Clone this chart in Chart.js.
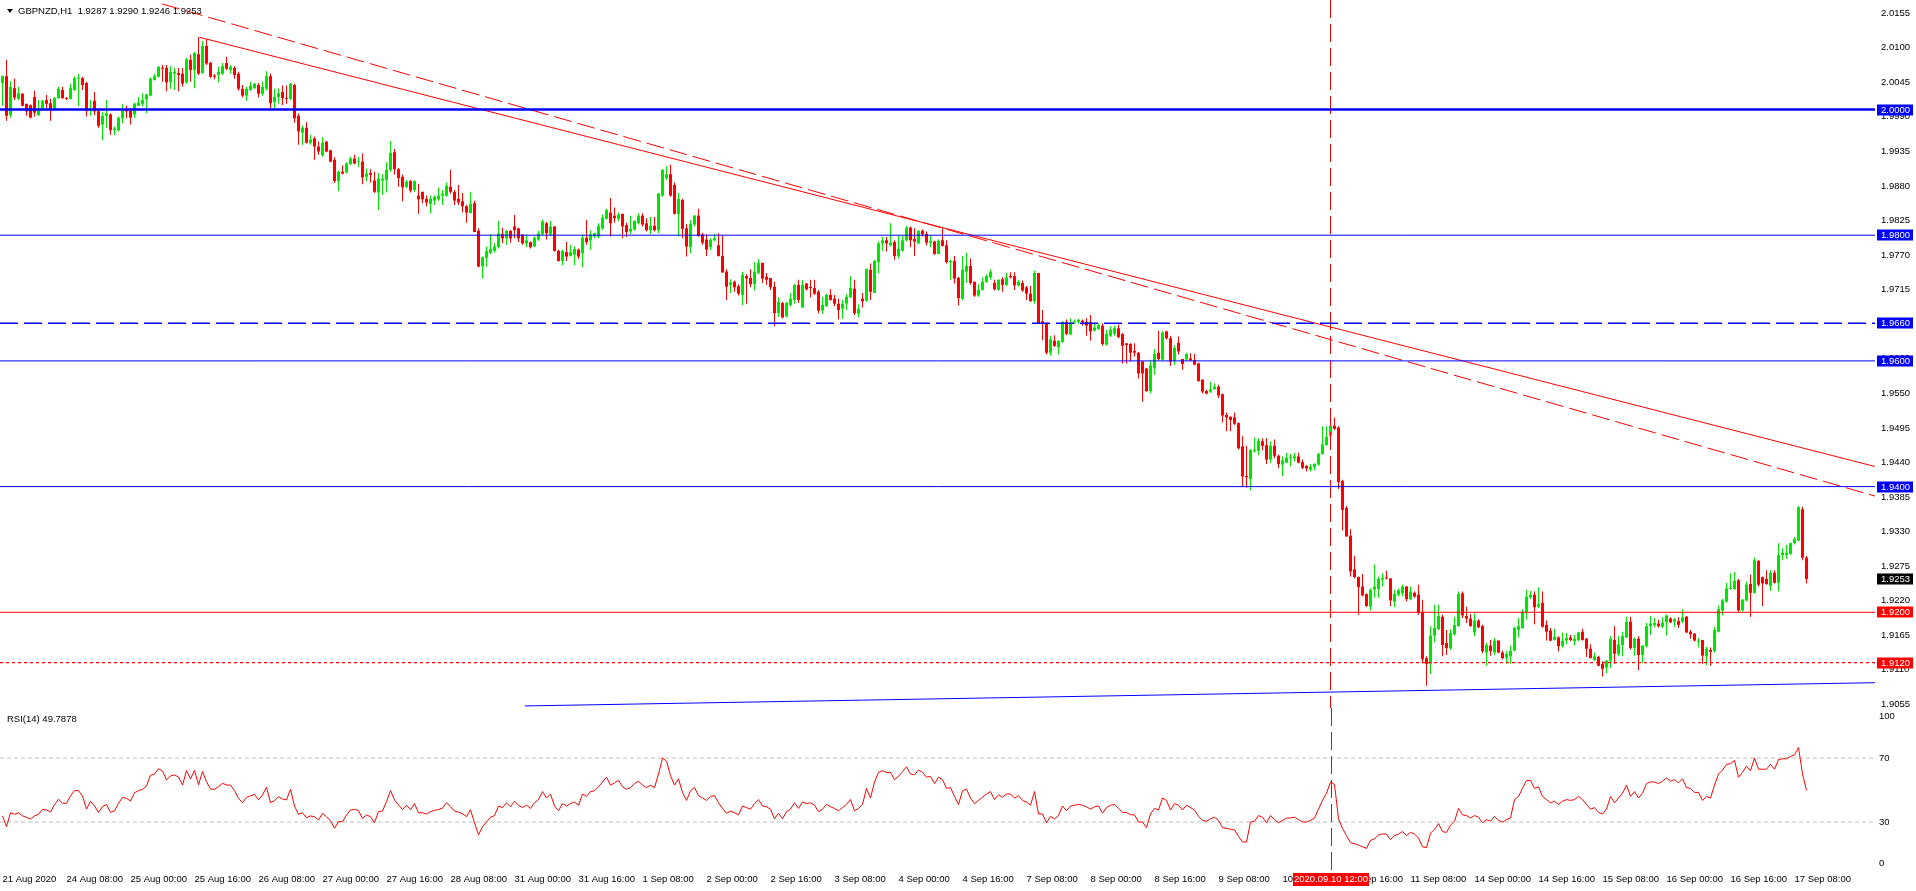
<!DOCTYPE html>
<html><head><meta charset="utf-8">
<script src="https://cdn.jsdelivr.net/npm/chart.js@4.4.0/dist/chart.umd.min.js"></script>
<style>
html,body{margin:0;padding:0;background:#fff;}
#wrap{position:relative;width:1916px;height:891px;overflow:hidden;background:#fff;}
#c1{position:absolute;left:0;top:0;}
#c2{position:absolute;left:0;top:698px;}
.lbl{position:absolute;font:9.5px 'Liberation Sans',Arial,sans-serif;line-height:12px;color:#000;white-space:pre;}
#tri{position:absolute;left:7px;top:9px;width:0;height:0;border-left:3.5px solid transparent;border-right:3.5px solid transparent;border-top:4px solid #000;}
</style></head><body>
<div id="wrap">
<canvas id="c1" width="1916" height="708"></canvas>
<canvas id="c2" width="1916" height="193"></canvas>
<div id="tri"></div>
<div class="lbl" id="title" style="left:18px;top:5px;"></div>
<div class="lbl" id="rsiLbl" style="left:7px;top:713px;"></div>
</div>
<script>
// ---------------- DATA ----------------
const SYMBOL = 'GBPNZD', TIMEFRAME = 'H1';
const OPEN = [
2.0042,2.0053,1.9991,2.0034,2.0017,2.0025,2.0009,2.0007,2.0020,1.9991,
2.0000,2.0015,2.0010,2.0000,2.0018,2.0031,2.0018,2.0017,2.0031,2.0049,
2.0050,2.0042,1.9998,2.0014,1.9997,1.9976,1.9990,1.9992,1.9967,1.9967,
1.9986,2.0000,1.9998,1.9992,2.0006,2.0009,2.0016,2.0022,2.0047,2.0052,
2.0066,2.0066,2.0044,2.0057,2.0058,2.0057,2.0043,2.0079,2.0063,2.0088,
2.0058,2.0101,2.0074,2.0054,2.0055,2.0057,2.0074,2.0063,2.0066,2.0057,
2.0033,2.0022,2.0031,2.0034,2.0039,2.0025,2.0033,2.0053,2.0012,2.0020,
2.0028,2.0018,2.0017,2.0039,1.9990,1.9963,1.9971,1.9947,1.9954,1.9941,
1.9927,1.9949,1.9935,1.9920,1.9886,1.9901,1.9900,1.9913,1.9922,1.9916,
1.9917,1.9893,1.9899,1.9887,1.9868,1.9887,1.9888,1.9904,1.9932,1.9905,
1.9893,1.9877,1.9886,1.9872,1.9863,1.9869,1.9858,1.9850,1.9855,1.9857,
1.9863,1.9863,1.9877,1.9869,1.9858,1.9854,1.9846,1.9835,1.9851,1.9807,
1.9751,1.9764,1.9772,1.9775,1.9781,1.9802,1.9795,1.9807,1.9814,1.9811,
1.9801,1.9787,1.9789,1.9782,1.9793,1.9802,1.9819,1.9801,1.9814,1.9775,
1.9759,1.9773,1.9767,1.9769,1.9777,1.9771,1.9796,1.9792,1.9798,1.9798,
1.9811,1.9826,1.9836,1.9831,1.9826,1.9834,1.9816,1.9806,1.9809,1.9819,
1.9831,1.9819,1.9808,1.9815,1.9808,1.9863,1.9891,1.9897,1.9880,1.9834,
1.9856,1.9811,1.9781,1.9817,1.9831,1.9801,1.9793,1.9781,1.9792,1.9784,
1.9767,1.9742,1.9721,1.9726,1.9719,1.9705,1.9735,1.9732,1.9722,1.9740,
1.9756,1.9734,1.9732,1.9718,1.9676,1.9692,1.9671,1.9689,1.9697,1.9721,
1.9685,1.9723,1.9717,1.9716,1.9710,1.9680,1.9687,1.9705,1.9699,1.9691,
1.9683,1.9691,1.9701,1.9715,1.9675,1.9699,1.9696,1.9745,1.9708,1.9757,
1.9787,1.9792,1.9784,1.9789,1.9767,1.9775,1.9792,1.9812,1.9794,1.9787,
1.9807,1.9802,1.9788,1.9790,1.9770,1.9792,1.9784,1.9757,1.9759,1.9732,
1.9699,1.9742,1.9751,1.9726,1.9704,1.9713,1.9726,1.9733,1.9724,1.9713,
1.9730,1.9721,1.9735,1.9735,1.9720,1.9724,1.9717,1.9707,1.9695,1.9740,
1.9663,1.9660,1.9613,1.9632,1.9622,1.9630,1.9662,1.9642,1.9661,1.9662,
1.9664,1.9662,1.9662,1.9648,1.9651,1.9656,1.9626,1.9640,1.9643,1.9652,
1.9643,1.9628,1.9627,1.9616,1.9613,1.9599,1.9588,1.9552,1.9589,1.9613,
1.9602,1.9647,1.9636,1.9600,1.9629,1.9603,1.9602,1.9604,1.9601,1.9596,
1.9570,1.9552,1.9551,1.9555,1.9559,1.9547,1.9514,1.9511,1.9510,1.9501,
1.9464,1.9417,1.9412,1.9457,1.9457,1.9472,1.9466,1.9443,1.9465,1.9449,
1.9435,1.9438,1.9445,1.9445,1.9448,1.9439,1.9433,1.9427,1.9431,1.9435,
1.9452,1.9466,1.9481,1.9497,1.9494,1.9409,1.9366,1.9322,1.9268,1.9256,
1.9241,1.9229,1.9209,1.9236,1.9237,1.9252,1.9255,1.9254,1.9217,1.9228,
1.9230,1.9241,1.9221,1.9231,1.9228,1.9200,1.9127,1.9118,1.9163,1.9173,
1.9193,1.9151,1.9143,1.9165,1.9178,1.9230,1.9194,1.9190,1.9168,1.9187,
1.9178,1.9136,1.9147,1.9136,1.9155,1.9136,1.9128,1.9130,1.9139,1.9172,
1.9175,1.9200,1.9224,1.9228,1.9209,1.9215,1.9180,1.9171,1.9156,1.9160,
1.9146,1.9155,1.9160,1.9154,1.9156,1.9169,1.9158,1.9142,1.9124,1.9129,
1.9118,1.9112,1.9123,1.9156,1.9134,1.9148,1.9160,1.9185,1.9143,1.9158,
1.9132,1.9146,1.9178,1.9180,1.9182,1.9177,1.9184,1.9190,1.9185,1.9186,
1.9185,1.9193,1.9169,1.9166,1.9153,1.9156,1.9130,1.9140,1.9138,1.9169,
1.9203,1.9217,1.9237,1.9237,1.9251,1.9203,1.9219,1.9245,1.9231,1.9282,
1.9256,1.9253,1.9242,1.9263,1.9247,1.9291,1.9291,1.9293,1.9310,1.9314,
1.9364,1.9287];
const HIGH = [
2.0054,2.0079,2.0045,2.0049,2.0036,2.0026,2.0009,2.0008,2.0030,2.0015,
2.0015,2.0023,2.0017,2.0020,2.0036,2.0036,2.0020,2.0041,2.0053,2.0057,
2.0052,2.0044,2.0015,2.0028,2.0000,1.9996,2.0015,1.9994,1.9973,1.9989,
2.0009,2.0006,2.0002,2.0011,2.0020,2.0026,2.0025,2.0051,2.0057,2.0069,
2.0071,2.0071,2.0069,2.0066,2.0066,2.0066,2.0082,2.0087,2.0092,2.0115,
2.0109,2.0112,2.0076,2.0056,2.0068,2.0074,2.0084,2.0071,2.0069,2.0060,
2.0039,2.0036,2.0044,2.0042,2.0042,2.0044,2.0061,2.0057,2.0033,2.0034,
2.0038,2.0038,2.0042,2.0041,1.9994,1.9974,1.9980,1.9960,1.9957,1.9949,
1.9956,1.9950,1.9936,1.9924,1.9903,1.9911,1.9916,1.9925,1.9928,1.9925,
1.9930,1.9906,1.9905,1.9901,1.9899,1.9897,1.9916,1.9950,1.9937,1.9907,
1.9896,1.9888,1.9888,1.9887,1.9882,1.9869,1.9863,1.9863,1.9863,1.9876,
1.9872,1.9884,1.9904,1.9872,1.9880,1.9867,1.9848,1.9869,1.9855,1.9811,
1.9766,1.9782,1.9802,1.9787,1.9823,1.9812,1.9808,1.9808,1.9832,1.9812,
1.9802,1.9801,1.9790,1.9798,1.9807,1.9825,1.9821,1.9823,1.9814,1.9777,
1.9777,1.9789,1.9785,1.9782,1.9779,1.9801,1.9824,1.9808,1.9804,1.9819,
1.9833,1.9842,1.9859,1.9844,1.9836,1.9834,1.9820,1.9831,1.9823,1.9835,
1.9835,1.9827,1.9829,1.9829,1.9867,1.9905,1.9910,1.9912,1.9884,1.9867,
1.9858,1.9818,1.9824,1.9832,1.9842,1.9804,1.9802,1.9795,1.9802,1.9803,
1.9799,1.9746,1.9730,1.9728,1.9722,1.9742,1.9738,1.9746,1.9757,1.9762,
1.9756,1.9740,1.9732,1.9726,1.9701,1.9694,1.9694,1.9708,1.9722,1.9729,
1.9729,1.9724,1.9729,1.9729,1.9713,1.9702,1.9707,1.9714,1.9705,1.9699,
1.9697,1.9706,1.9735,1.9729,1.9690,1.9708,1.9747,1.9755,1.9761,1.9790,
1.9797,1.9797,1.9819,1.9792,1.9799,1.9799,1.9815,1.9814,1.9811,1.9808,
1.9809,1.9806,1.9800,1.9791,1.9793,1.9811,1.9792,1.9761,1.9767,1.9734,
1.9767,1.9772,1.9763,1.9726,1.9722,1.9733,1.9738,1.9746,1.9729,1.9730,
1.9733,1.9740,1.9741,1.9741,1.9729,1.9728,1.9719,1.9719,1.9744,1.9740,
1.9681,1.9661,1.9640,1.9641,1.9633,1.9663,1.9666,1.9668,1.9666,1.9667,
1.9666,1.9668,1.9673,1.9660,1.9660,1.9660,1.9649,1.9655,1.9656,1.9658,
1.9644,1.9628,1.9628,1.9628,1.9614,1.9600,1.9589,1.9602,1.9619,1.9648,
1.9647,1.9648,1.9640,1.9625,1.9639,1.9603,1.9613,1.9612,1.9611,1.9597,
1.9571,1.9554,1.9567,1.9564,1.9562,1.9548,1.9518,1.9512,1.9518,1.9502,
1.9480,1.9465,1.9460,1.9478,1.9477,1.9477,1.9477,1.9472,1.9475,1.9451,
1.9448,1.9454,1.9452,1.9454,1.9454,1.9443,1.9434,1.9436,1.9437,1.9454,
1.9496,1.9496,1.9498,1.9510,1.9496,1.9411,1.9369,1.9332,1.9290,1.9257,
1.9261,1.9230,1.9238,1.9276,1.9257,1.9262,1.9266,1.9254,1.9236,1.9238,
1.9244,1.9242,1.9241,1.9233,1.9244,1.9220,1.9130,1.9178,1.9212,1.9212,
1.9196,1.9172,1.9173,1.9193,1.9233,1.9233,1.9209,1.9197,1.9198,1.9189,
1.9180,1.9151,1.9156,1.9159,1.9155,1.9139,1.9138,1.9147,1.9177,1.9191,
1.9205,1.9236,1.9234,1.9233,1.9240,1.9233,1.9187,1.9175,1.9174,1.9162,
1.9168,1.9167,1.9164,1.9164,1.9169,1.9174,1.9159,1.9149,1.9136,1.9131,
1.9122,1.9124,1.9162,1.9178,1.9162,1.9169,1.9193,1.9193,1.9160,1.9162,
1.9148,1.9183,1.9194,1.9191,1.9188,1.9192,1.9197,1.9192,1.9191,1.9192,
1.9205,1.9194,1.9172,1.9167,1.9159,1.9156,1.9145,1.9144,1.9177,1.9211,
1.9221,1.9247,1.9262,1.9264,1.9253,1.9221,1.9249,1.9260,1.9287,1.9283,
1.9257,1.9267,1.9267,1.9267,1.9310,1.9302,1.9307,1.9311,1.9320,1.9369,
1.9368,1.9290];
const LOW = [
2.0006,1.9982,1.9987,2.0015,2.0015,2.0005,1.9990,1.9986,1.9989,1.9990,
1.9998,2.0002,1.9982,1.9999,2.0017,2.0017,2.0015,2.0016,2.0030,2.0005,
2.0031,1.9989,1.9990,1.9991,1.9971,1.9951,1.9971,1.9960,1.9959,1.9965,
1.9978,1.9986,1.9976,1.9986,2.0005,2.0005,1.9994,2.0021,2.0046,2.0051,
2.0044,2.0029,2.0033,2.0031,2.0029,2.0036,2.0041,2.0044,2.0034,2.0055,
2.0057,2.0071,2.0050,2.0048,2.0043,2.0055,2.0063,2.0057,2.0049,2.0030,
2.0019,2.0014,2.0030,2.0033,2.0019,2.0022,2.0030,2.0001,2.0001,2.0009,
2.0007,2.0009,2.0015,1.9979,1.9944,1.9944,1.9946,1.9944,1.9920,1.9928,
1.9925,1.9932,1.9916,1.9883,1.9870,1.9897,1.9898,1.9912,1.9913,1.9908,
1.9881,1.9886,1.9884,1.9867,1.9840,1.9864,1.9868,1.9901,1.9896,1.9877,
1.9854,1.9875,1.9868,1.9869,1.9834,1.9851,1.9846,1.9835,1.9848,1.9855,
1.9848,1.9861,1.9866,1.9848,1.9848,1.9836,1.9820,1.9835,1.9805,1.9749,
1.9731,1.9750,1.9770,1.9772,1.9779,1.9787,1.9785,1.9788,1.9795,1.9789,
1.9785,1.9781,1.9779,1.9781,1.9791,1.9799,1.9793,1.9799,1.9774,1.9758,
1.9752,1.9759,1.9766,1.9752,1.9762,1.9749,1.9785,1.9777,1.9795,1.9795,
1.9808,1.9825,1.9798,1.9820,1.9822,1.9795,1.9797,1.9802,1.9807,1.9817,
1.9814,1.9806,1.9802,1.9806,1.9803,1.9861,1.9888,1.9861,1.9833,1.9798,
1.9795,1.9766,1.9771,1.9814,1.9798,1.9785,1.9767,1.9776,1.9790,1.9766,
1.9740,1.9697,1.9708,1.9710,1.9704,1.9689,1.9691,1.9717,1.9712,1.9738,
1.9724,1.9721,1.9713,1.9655,1.9670,1.9668,1.9669,1.9686,1.9691,1.9692,
1.9684,1.9712,1.9701,1.9705,1.9676,1.9675,1.9686,1.9696,1.9687,1.9666,
1.9667,1.9681,1.9700,1.9673,1.9669,1.9685,1.9694,1.9697,1.9708,1.9739,
1.9775,1.9774,1.9782,1.9761,1.9763,1.9774,1.9790,1.9781,1.9767,1.9786,
1.9798,1.9784,1.9781,1.9769,1.9770,1.9782,1.9755,1.9729,1.9723,1.9688,
1.9697,1.9724,1.9721,1.9702,1.9702,1.9712,1.9724,1.9729,1.9712,1.9712,
1.9710,1.9719,1.9731,1.9713,1.9718,1.9710,1.9697,1.9694,1.9691,1.9659,
1.9633,1.9610,1.9608,1.9622,1.9610,1.9629,1.9641,1.9641,1.9659,1.9659,
1.9656,1.9640,1.9632,1.9647,1.9649,1.9624,1.9624,1.9638,1.9640,1.9636,
1.9596,1.9596,1.9599,1.9607,1.9572,1.9535,1.9551,1.9548,1.9578,1.9601,
1.9600,1.9634,1.9592,1.9594,1.9610,1.9586,1.9600,1.9600,1.9593,1.9567,
1.9548,1.9547,1.9549,1.9554,1.9541,1.9502,1.9488,1.9488,1.9498,1.9459,
1.9401,1.9398,1.9394,1.9454,1.9450,1.9458,1.9436,1.9437,1.9445,1.9429,
1.9417,1.9437,1.9432,1.9440,1.9437,1.9428,1.9424,1.9424,1.9426,1.9433,
1.9451,1.9465,1.9480,1.9490,1.9396,1.9330,1.9320,1.9257,1.9254,1.9196,
1.9225,1.9209,1.9203,1.9223,1.9223,1.9241,1.9252,1.9210,1.9208,1.9225,
1.9225,1.9217,1.9219,1.9223,1.9196,1.9119,1.9083,1.9102,1.9152,1.9172,
1.9130,1.9132,1.9140,1.9163,1.9177,1.9191,1.9183,1.9177,1.9162,1.9175,
1.9135,1.9115,1.9131,1.9132,1.9135,1.9125,1.9118,1.9118,1.9138,1.9160,
1.9174,1.9188,1.9221,1.9181,1.9207,1.9176,1.9155,1.9154,1.9155,1.9138,
1.9144,1.9149,1.9154,1.9147,1.9154,1.9155,1.9129,1.9127,1.9123,1.9114,
1.9098,1.9103,1.9111,1.9118,1.9130,1.9130,1.9159,1.9141,1.9131,1.9108,
1.9119,1.9144,1.9164,1.9176,1.9176,1.9175,1.9163,1.9183,1.9177,1.9175,
1.9183,1.9167,1.9158,1.9154,1.9144,1.9118,1.9116,1.9115,1.9136,1.9168,
1.9195,1.9215,1.9236,1.9236,1.9201,1.9201,1.9217,1.9193,1.9230,1.9241,
1.9210,1.9244,1.9234,1.9246,1.9233,1.9283,1.9285,1.9291,1.9308,1.9313,
1.9283,1.9246];
const CLOSE = [
2.0053,1.9990,2.0036,2.0019,2.0026,2.0006,1.9997,1.9987,1.9995,1.9998,
2.0014,2.0009,2.0000,2.0018,2.0033,2.0018,2.0017,2.0034,2.0050,2.0050,
2.0039,1.9998,2.0001,1.9997,1.9974,1.9990,1.9994,1.9967,1.9970,1.9987,
1.9998,1.9997,1.9987,2.0009,2.0011,2.0015,2.0024,2.0049,2.0053,2.0068,
2.0065,2.0043,2.0060,2.0060,2.0055,2.0041,2.0080,2.0063,2.0090,2.0057,
2.0101,2.0073,2.0052,2.0052,2.0060,2.0069,2.0065,2.0068,2.0055,2.0033,
2.0022,2.0033,2.0038,2.0041,2.0025,2.0036,2.0053,2.0010,2.0020,2.0026,
2.0018,2.0017,2.0041,1.9986,1.9965,1.9971,1.9947,1.9952,1.9941,1.9933,
1.9947,1.9933,1.9917,1.9886,1.9901,1.9898,1.9914,1.9922,1.9914,1.9917,
1.9892,1.9898,1.9896,1.9869,1.9890,1.9890,1.9904,1.9931,1.9905,1.9891,
1.9876,1.9885,1.9871,1.9886,1.9857,1.9857,1.9852,1.9858,1.9861,1.9863,
1.9866,1.9879,1.9869,1.9855,1.9852,1.9846,1.9836,1.9850,1.9805,1.9750,
1.9765,1.9775,1.9778,1.9782,1.9803,1.9795,1.9807,1.9795,1.9808,1.9795,
1.9787,1.9792,1.9781,1.9796,1.9803,1.9822,1.9803,1.9814,1.9775,1.9759,
1.9775,1.9766,1.9773,1.9778,1.9766,1.9796,1.9789,1.9801,1.9803,1.9815,
1.9828,1.9840,1.9819,1.9827,1.9833,1.9814,1.9805,1.9810,1.9823,1.9831,
1.9817,1.9808,1.9815,1.9808,1.9866,1.9904,1.9897,1.9863,1.9834,1.9858,
1.9810,1.9782,1.9818,1.9831,1.9799,1.9788,1.9777,1.9793,1.9795,1.9767,
1.9741,1.9718,1.9725,1.9717,1.9707,1.9737,1.9731,1.9722,1.9742,1.9756,
1.9731,1.9729,1.9717,1.9676,1.9694,1.9669,1.9692,1.9699,1.9721,1.9697,
1.9721,1.9714,1.9716,1.9707,1.9680,1.9689,1.9705,1.9697,1.9691,1.9681,
1.9691,1.9702,1.9716,1.9676,1.9683,1.9695,1.9746,1.9710,1.9759,1.9787,
1.9792,1.9787,1.9788,1.9767,1.9778,1.9792,1.9812,1.9792,1.9790,1.9807,
1.9801,1.9788,1.9791,1.9770,1.9791,1.9783,1.9757,1.9759,1.9731,1.9700,
1.9745,1.9751,1.9724,1.9704,1.9713,1.9726,1.9735,1.9742,1.9714,1.9729,
1.9721,1.9733,1.9733,1.9720,1.9726,1.9712,1.9707,1.9695,1.9740,1.9660,
1.9660,1.9613,1.9634,1.9624,1.9632,1.9662,1.9643,1.9659,1.9663,1.9665,
1.9661,1.9656,1.9647,1.9653,1.9657,1.9627,1.9643,1.9650,1.9652,1.9638,
1.9624,1.9625,1.9613,1.9613,1.9580,1.9580,1.9552,1.9593,1.9611,1.9603,
1.9645,1.9636,1.9599,1.9621,1.9615,1.9595,1.9611,1.9601,1.9594,1.9568,
1.9551,1.9548,1.9555,1.9559,1.9545,1.9513,1.9510,1.9506,1.9500,1.9461,
1.9416,1.9415,1.9458,1.9459,1.9473,1.9465,1.9443,1.9465,1.9449,1.9436,
1.9442,1.9446,1.9446,1.9448,1.9438,1.9430,1.9429,1.9432,1.9436,1.9452,
1.9467,1.9479,1.9497,1.9492,1.9407,1.9363,1.9321,1.9265,1.9256,1.9240,
1.9227,1.9210,1.9236,1.9241,1.9253,1.9255,1.9254,1.9219,1.9229,1.9235,
1.9241,1.9221,1.9233,1.9225,1.9199,1.9125,1.9118,1.9163,1.9175,1.9194,
1.9148,1.9143,1.9167,1.9180,1.9229,1.9195,1.9190,1.9178,1.9187,1.9176,
1.9138,1.9148,1.9138,1.9155,1.9136,1.9127,1.9134,1.9139,1.9175,1.9178,
1.9201,1.9225,1.9228,1.9208,1.9213,1.9177,1.9169,1.9155,1.9161,1.9146,
1.9155,1.9159,1.9156,1.9158,1.9168,1.9156,1.9142,1.9127,1.9130,1.9115,
1.9110,1.9123,1.9158,1.9134,1.9149,1.9162,1.9185,1.9143,1.9158,1.9132,
1.9147,1.9178,1.9182,1.9183,1.9178,1.9184,1.9194,1.9184,1.9189,1.9180,
1.9192,1.9168,1.9165,1.9155,1.9155,1.9131,1.9142,1.9137,1.9172,1.9205,
1.9219,1.9238,1.9239,1.9250,1.9203,1.9220,1.9244,1.9231,1.9283,1.9244,
1.9246,1.9245,1.9263,1.9247,1.9291,1.9295,1.9295,1.9310,1.9317,1.9367,
1.9287,1.9253];
// RSI(14) values
const RSI = [
33.8,27.1,35.8,34.8,35.8,33.9,32.9,31.9,33.8,34.8,
37.9,37.5,36.3,40.8,44.2,41.7,41.7,46.3,49.6,49.6,
46.3,38.1,42.9,40.0,36.0,39.6,41.0,36.0,36.9,41.7,
45.4,44.8,43.1,48.3,49.6,50.4,52.5,59.2,60.0,63.3,
61.9,56.3,58.8,59.4,58.1,53.1,62.1,56.9,62.3,53.3,
61.5,55.2,50.6,50.4,52.1,54.2,53.1,53.1,49.6,44.8,
42.1,45.4,46.3,47.3,43.8,46.9,51.7,42.1,43.3,45.8,
44.4,43.8,50.4,40.0,34.8,35.8,32.7,33.8,33.3,31.3,
35.4,33.3,30.8,26.1,30.2,30.2,34.4,37.5,37.9,37.1,
32.3,34.4,33.3,29.6,36.5,36.9,42.7,49.6,43.8,40.6,
37.8,40.5,37.6,41.5,35.8,35.8,35.0,36.5,37.3,37.8,
38.6,42.0,39.6,36.8,36.2,35.1,33.4,37.6,29.5,22.0,
27.0,30.0,33.0,34.0,40.0,39.0,42.0,39.5,43.0,40.5,
39.0,40.5,38.5,42.0,44.0,49.0,45.0,47.5,40.0,37.0,
41.5,40.0,41.5,42.5,40.5,47.5,46.0,49.0,49.5,52.0,
55.0,58.0,53.0,54.5,56.0,52.0,50.5,51.5,54.0,55.5,
53.0,51.5,53.0,51.5,60.0,70.0,68.0,59.0,53.0,57.0,
48.5,43.5,49.5,51.5,46.5,45.0,43.5,46.0,46.5,42.0,
38.5,35.5,36.8,35.8,34.5,40.0,39.0,38.0,41.5,44.0,
40.0,39.5,38.0,32.0,35.5,32.0,36.5,38.0,42.0,38.5,
42.5,41.5,42.0,40.5,36.5,38.0,41.0,39.5,38.5,37.0,
39.0,41.0,44.0,37.0,38.5,41.0,51.0,45.0,55.0,61.0,
62.0,61.0,61.0,56.5,58.5,61.5,64.5,60.0,59.5,62.5,
61.0,58.0,58.5,54.0,58.0,56.5,51.0,51.5,46.0,41.0,
49.5,50.5,45.0,41.5,43.5,45.5,47.5,49.0,44.0,47.0,
45.5,47.5,47.5,45.0,46.5,43.5,42.5,40.5,49.0,35.0,
35.0,29.5,33.5,32.0,34.0,40.0,37.0,40.0,40.5,41.0,
40.5,39.5,38.0,39.5,40.0,35.5,39.0,40.5,41.0,38.5,
36.0,36.0,34.5,34.5,30.0,30.0,26.5,35.0,38.5,37.5,
45.0,43.5,37.5,41.5,40.5,37.5,40.5,39.0,37.5,33.5,
31.0,30.5,32.0,33.0,31.0,26.5,26.0,25.5,25.0,21.0,
17.5,17.5,30.0,30.5,34.0,33.0,29.5,34.0,31.5,29.5,
31.0,32.5,32.5,33.0,31.5,30.0,30.0,31.0,32.5,38.0,
43.5,48.0,55.0,53.5,32.0,26.0,21.5,17.0,16.5,15.5,
14.5,13.5,18.5,19.5,22.0,22.5,22.5,19.0,21.5,22.5,
24.0,21.5,23.5,22.5,20.0,14.5,14.0,23.0,25.5,29.0,
24.0,23.5,28.0,30.5,38.5,34.5,34.0,32.5,34.0,33.0,
29.5,31.5,30.5,33.5,31.0,30.0,31.5,32.5,44.0,46.0,
51.0,56.0,56.0,51.0,52.0,46.0,44.0,42.0,43.0,41.0,
43.0,44.0,43.5,44.0,46.0,44.0,41.0,38.0,39.0,36.0,
35.0,38.0,46.0,42.0,45.0,48.0,53.0,46.0,49.0,45.0,
48.0,54.0,55.0,55.0,54.0,55.5,57.5,55.5,56.5,54.5,
57.0,51.5,51.0,48.5,48.5,43.5,46.0,45.0,53.0,60.0,
62.5,66.0,66.5,68.5,58.0,61.0,65.0,62.0,70.0,63.0,
63.0,63.0,66.0,63.0,69.0,69.5,69.5,71.0,72.0,76.5,
60.0,49.8];
const RSI_LAST = 49.7878;
const RSI_LEVELS = [70, 30];
const RSI_TICK_LABELS = ['0', '30', '70', '100'];
const RSI_TICK_POS = [4.4, 30, 70, 96.3];

const PRICE_TICKS = [1.9055,1.9110,1.9165,1.9220,1.9275,1.9330,1.9385,1.9440,1.9495,1.9550,1.9605,1.9660,1.9715,1.9770,1.9825,1.9880,1.9935,1.9990,2.0045,2.0100,2.0155];
const TIME_TICK_IDX = [0,16,32,48,64,80,96,112,128,144,160,176,192,208,224,240,256,272,288,304,320,336,352,368,384,400,416,432,448];
const TIME_LABELS = ['21 Aug 2020','24 Aug 08:00','25 Aug 00:00','25 Aug 16:00','26 Aug 08:00','27 Aug 00:00','27 Aug 16:00','28 Aug 08:00','31 Aug 00:00','31 Aug 16:00','1 Sep 08:00','2 Sep 00:00','2 Sep 16:00','3 Sep 08:00','4 Sep 00:00','4 Sep 16:00','7 Sep 08:00','8 Sep 00:00','8 Sep 16:00','9 Sep 08:00','10 Sep 00:00','10 Sep 16:00','11 Sep 08:00','14 Sep 00:00','14 Sep 16:00','15 Sep 08:00','16 Sep 00:00','16 Sep 16:00','17 Sep 08:00'];

// horizontal levels (price) and trend lines (bar index, price)
const HLEVELS = [2.0000, 1.9800, 1.9660, 1.9600, 1.9400, 1.9200, 1.9120];
const TREND_SOLID = [[49.2, 2.0115], [468.1, 1.9432]];
const TREND_DASHED = [[39.9, 2.0168], [468.1, 1.9385]];
const TREND_SUPPORT = [[130.6, 1.9051], [468.1, 1.9088]];
const VLINE_IDX = 332;
const VLINE_LABEL = '2020.09.10 12:00';

// ---------------- STYLE ----------------
const FONT = "'Liberation Sans', Arial, sans-serif";
const FS = 9.5;
const BULL = '#00e600', BEAR = '#ff0000', BLUE = '#0000ff', RED = '#ff0000';
const HSTYLE = [
  {c:BLUE, w:2.5, d:[]}, {c:BLUE, w:1, d:[]}, {c:BLUE, w:1.4, d:[18,6]}, {c:BLUE, w:1, d:[]},
  {c:BLUE, w:1, d:[]}, {c:RED, w:1, d:[]}, {c:RED, w:1.2, d:[3,3]}
];
const X_MIN = -0.625, X_MAX = 468.125;
const Y_MAX = 2.0 + 109.5/6285, Y_MIN = 2.0 - (708-109.5)/6285;

Chart.defaults.font.family = FONT;
Chart.defaults.font.size = FS;

const N = OPEN.length;
const colors = OPEN.map((o, i) => CLOSE[i] >= o ? BULL : BEAR);

function lineDS(pts, color, width, dash, order) {
  return {type:'line', data: pts.map(p => ({x:p[0], y:p[1]})), borderColor:color, borderWidth:width,
    borderDash:dash, pointRadius:0, fill:false, tension:0, order:order, borderCapStyle:'butt'};
}

const lineSets = [];
HLEVELS.forEach((p, k) => lineSets.push(lineDS([[X_MIN, p], [X_MAX, p]], HSTYLE[k].c, HSTYLE[k].w, HSTYLE[k].d, 0)));
lineSets.push(lineDS(TREND_SOLID, RED, 1, [], 0));
lineSets.push(lineDS(TREND_DASHED, RED, 1, [18,6], 0));
lineSets.push(lineDS(TREND_SUPPORT, BLUE, 1, [], 0));
lineSets.push(lineDS([[VLINE_IDX, Y_MAX], [VLINE_IDX, Y_MIN]], RED, 1, [18,6], 0));

const TAGS = HLEVELS.map((p, k) => ({p, c: HSTYLE[k].c}));
TAGS.push({p: CLOSE[N-1], c:'#000000'});

const tagPlugin = {
  id:'tags',
  afterDraw(chart) {
    const ctx = chart.ctx, ys = chart.scales.y;
    ctx.save();
    ctx.font = FS + 'px ' + FONT;
    ctx.textBaseline = 'middle'; ctx.textAlign = 'left';
    TAGS.forEach(t => {
      const y = ys.getPixelForValue(t.p);
      ctx.fillStyle = t.c;
      ctx.fillRect(1877, Math.round(y) - 5.5, 36, 11);
      ctx.fillStyle = '#ffffff';
      ctx.fillText(t.p.toFixed(4), 1881, Math.round(y) + 0.5);
    });
    ctx.restore();
  }
};

new Chart(document.getElementById('c1'), {
  type:'bar',
  data:{datasets:[
    {data: OPEN.map((o, i) => ({x:i, y:[LOW[i], HIGH[i]]})), backgroundColor:colors, barThickness:1,
      grouped:false, order:3, minBarLength:1, inflateAmount:0, borderWidth:0},
    {data: OPEN.map((o, i) => ({x:i, y:[o, CLOSE[i]]})), backgroundColor:colors, barThickness:3,
      grouped:false, order:2, minBarLength:1, inflateAmount:0, borderWidth:0},
    ...lineSets
  ]},
  options:{
    responsive:false, animation:false, devicePixelRatio:1, events:[],
    layout:{padding:0},
    plugins:{legend:{display:false}, tooltip:{enabled:false}, title:{display:false}},
    scales:{
      x:{type:'linear', min:X_MIN, max:X_MAX, offset:false, bounds:'data', display:false},
      y:{type:'linear', position:'right', min:Y_MIN, max:Y_MAX, bounds:'data',
        grid:{display:false, drawTicks:false}, border:{display:false},
        afterBuildTicks: s => { s.ticks = PRICE_TICKS.map(v => ({value:v})); },
        afterFit: s => { s.width = 41; s.paddingTop = 0; s.paddingBottom = 0; },
        ticks:{padding:6, labelOffset:1, color:'#000', autoSkip:false, font:{size:FS, family:FONT},
          callback: v => Number(v).toFixed(4)}
      }
    }
  },
  plugins:[tagPlugin]
});

const rsiPlugin = {
  id:'rsiExtras',
  afterDatasetsDraw(chart) {
    const ctx = chart.ctx, xs = chart.scales.x;
    const x = Math.round(xs.getPixelForValue(VLINE_IDX)) + 0.5;
    ctx.save();
    ctx.strokeStyle = RED; ctx.lineWidth = 1; ctx.setLineDash([18,6]);
    ctx.beginPath(); ctx.moveTo(x, 10); ctx.lineTo(x, chart.chartArea.bottom); ctx.stroke();
    ctx.restore();
  },
  afterDraw(chart) {
    const ctx = chart.ctx, xs = chart.scales.x;
    const x = Math.round(xs.getPixelForValue(VLINE_IDX));
    ctx.save();
    ctx.fillStyle = RED;
    ctx.fillRect(x - 38, 175, 76, 13);
    ctx.fillStyle = '#ffffff';
    ctx.font = FS + 'px ' + FONT;
    ctx.textAlign = 'center'; ctx.textBaseline = 'middle';
    ctx.fillText(VLINE_LABEL, x, 181.5);
    ctx.restore();
  }
};

new Chart(document.getElementById('c2'), {
  type:'line',
  data:{datasets:[
    {data: RSI.map((v, i) => ({x:i, y:v})), borderColor:RED, borderWidth:1, pointRadius:0, tension:0, order:0},
    ...RSI_LEVELS.map(l => ({data:[{x:X_MIN, y:l}, {x:X_MAX, y:l}], borderColor:'#c0c0c0', borderWidth:1, borderDash:[4,3], pointRadius:0, order:1}))
  ]},
  options:{
    responsive:false, animation:false, devicePixelRatio:1, events:[],
    layout:{padding:{top:12, left:0, right:0, bottom:0}},
    plugins:{legend:{display:false}, tooltip:{enabled:false}},
    scales:{
      x:{type:'linear', position:'bottom', min:X_MIN, max:X_MAX, offset:false, bounds:'data',
        grid:{display:false, drawTicks:false}, border:{display:false},
        afterBuildTicks: s => { s.ticks = TIME_TICK_IDX.map(v => ({value:v})); },
        afterFit: s => { s.height = 21; s.paddingLeft = 0; s.paddingRight = 0; },
        ticks:{align:'start', padding:4, maxRotation:0, minRotation:0, autoSkip:false, color:'#000',
          font:{size:FS, family:FONT}, callback: (v, i) => TIME_LABELS[i]}
      },
      y:{type:'linear', position:'right', min:0, max:100, bounds:'data',
        grid:{display:false, drawTicks:false}, border:{display:false},
        afterBuildTicks: s => { s.ticks = RSI_TICK_POS.map(v => ({value:v})); },
        afterFit: s => { s.width = 41; s.paddingTop = 0; s.paddingBottom = 0; },
        ticks:{padding:4, color:'#000', autoSkip:false, font:{size:FS, family:FONT},
          callback: (v, i) => RSI_TICK_LABELS[i]}
      }
    }
  },
  plugins:[rsiPlugin]
});

document.getElementById('title').textContent =
  SYMBOL + ',' + TIMEFRAME + '  ' + [OPEN[N-1], HIGH[N-1], LOW[N-1], CLOSE[N-1]].map(v => v.toFixed(4)).join(' ');
document.getElementById('rsiLbl').textContent = 'RSI(14) ' + RSI_LAST.toFixed(4);
</script>
</body></html>
